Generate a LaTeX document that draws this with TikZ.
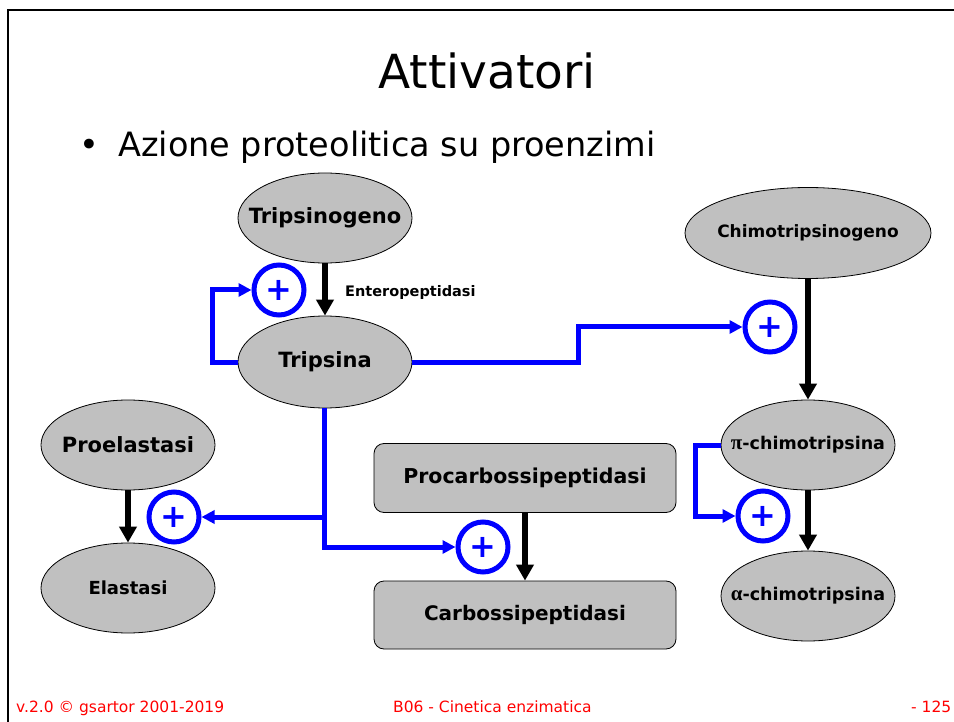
\documentclass[tikz,border=0pt]{standalone}
\usepackage{fontspec}
\setmainfont{DejaVu Sans}
\newfontfamily\grk{Liberation Serif}
\usetikzlibrary{shapes.geometric,arrows.meta}
\definecolor{nodegray}{HTML}{C0C0C0}
\newcommand{\fsz}[1]{\fontsize{#1}{#1}\selectfont}
\newcommand{\ztext}[1]{\makebox[0pt]{#1}}
\begin{document}
\begin{tikzpicture}[x=1pt,y=-1pt,
  ell/.style={ellipse,draw=black,line width=0.8pt,fill=nodegray,inner sep=0pt,font=\bfseries},
  rbox/.style={rectangle,rounded corners=10pt,draw=black,line width=0.8pt,fill=nodegray,inner sep=0pt,font=\bfseries},
  plus/.style={circle,draw=blue,line width=5pt,minimum size=50pt,inner sep=0pt,text=blue,font=\bfseries\fsz{32}},
  conv/.style={draw=black,line width=6pt,-{Triangle[length=16pt,width=17pt]}},
  act/.style={draw=blue,line width=5pt,-{Triangle[length=13pt,width=13pt]}},
  foot/.style={text=red,font=\fsz{15.5},anchor=base west,inner sep=0pt}]
\useasboundingbox (0,0) rectangle (954,722);
\clip (0,0) rectangle (954,722);
\fill[white] (0,0) rectangle (954,722);
% frame
\draw[line width=2pt] (8,722) -- (8,10) -- (960,10);
% title
\node[anchor=base,inner sep=0pt,font=\fsz{47}] (title) at (487,89) {Attivatori};
\node[anchor=base,inner sep=0pt,font=\fsz{33.5}] (bullet) at (89,157) {•};
\node[anchor=base west,inner sep=0pt,font=\fsz{33.5}] (sub) at (118,157) {Azione proteolitica su proenzimi};
% nodes
\node[ell,minimum width=174pt,minimum height=90pt,font=\bfseries\fsz{21}] (tgen) at (325,218) {\ztext{Tripsinogeno}};
\node[ell,minimum width=174pt,minimum height=92pt,font=\bfseries\fsz{21}] (trip) at (325,362) {\ztext{Tripsina}};
\node[ell,minimum width=246pt,minimum height=91pt,font=\bfseries\fsz{17}] (cgen) at (808,233) {\ztext{Chimotripsinogeno}};
\node[ell,minimum width=174pt,minimum height=90pt,font=\bfseries\fsz{17.5}] (pic) at (808,445) {\ztext{{\grk\fsz{21}π}-chimotripsina}};
\node[ell,minimum width=174pt,minimum height=90pt,font=\bfseries\fsz{17.5}] (alc) at (808,596) {\ztext{{\grk\fsz{21}α}-chimotripsina}};
\node[ell,minimum width=174pt,minimum height=90pt,font=\bfseries\fsz{21}] (proel) at (128,445) {\ztext{Proelastasi}};
\node[ell,minimum width=174pt,minimum height=90pt,font=\bfseries\fsz{18}] (elast) at (128,588) {\ztext{Elastasi}};
\node[rbox,minimum width=302pt,minimum height=69pt,font=\bfseries\fsz{20.5}] (procarb) at (525,478) {Procarbossipeptidasi};
\node[rbox,minimum width=302pt,minimum height=68pt,font=\bfseries\fsz{20}] (carb) at (525,615) {Carbossipeptidasi};
% plus circles
\node[plus] (p1) at (279,290) {+};
\node[plus] (p2) at (770,327) {+};
\node[plus] (p3) at (763,516) {+};
\node[plus] (p4) at (174,517) {+};
\node[plus] (p5) at (483,547) {+};
% label
\node[anchor=base west,inner sep=0pt,font=\bfseries\fsz{14.5}] (entero) at (345,297) {Enteropeptidasi};
% black conversion arrows
\draw[conv] (tgen.south) -- (trip.north);
\draw[conv] (cgen.south) -- (pic.north);
\draw[conv] (pic.south) -- (alc.north);
\draw[conv] (proel.south) -- (elast.north);
\draw[conv] (procarb.south) -- (carb.north);
% blue activation connectors
\draw[act] (trip.west) -- ++(-25,0) |- (p1.west);
\coordinate (bend) at (578,327);
\draw[act] (trip.east) -- (trip.east -| bend) -- (bend) -- (p2.west);
\coordinate (junc) at (324,517);
\draw[act] (trip.south -| junc) -- (junc) -- (p4.east);
\draw[act] (junc) |- (p5.west);
\draw[act] (pic.west) -- ++(-25,0) |- (p3.west);
% footer
\node[foot] (f1) at (16,712) {v.2.0 © gsartor 2001-2019};
\node[foot] (f2) at (393,712) {B06 - Cinetica enzimatica};
\node[foot] (f3) at (911,712) {- 125 -};
\end{tikzpicture}
\end{document}
